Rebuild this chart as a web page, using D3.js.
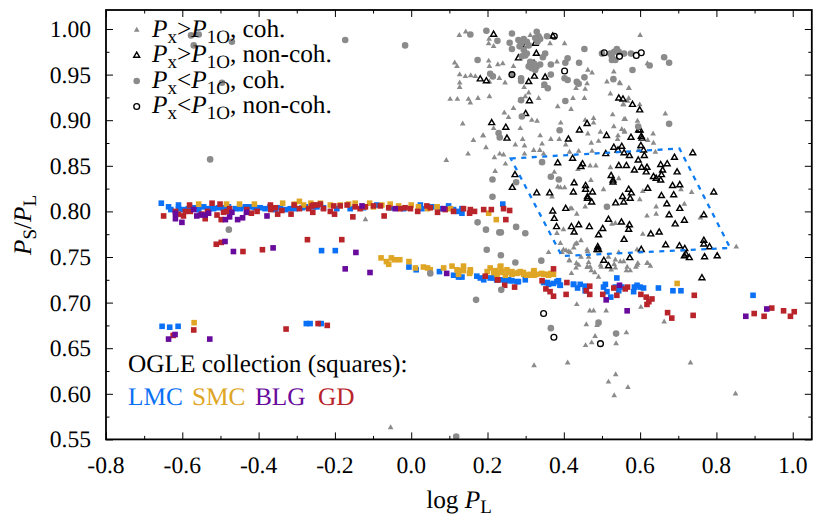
<!DOCTYPE html>
<html><head><meta charset="utf-8">
<script src="https://cdn.jsdelivr.net/npm/d3@7/dist/d3.min.js"></script>
<style>html,body{margin:0;padding:0;background:#fff}svg{display:block}text{font-family:"Liberation Serif",serif;fill:#000;text-rendering:geometricPrecision}</style>
</head><body><div id="c"></div>
<script>
const xTicks=[-0.8,-0.6,-0.4,-0.2,0,0.2,0.4,0.6,0.8,1.0];
const yTicks=[0.55,0.60,0.65,0.70,0.75,0.80,0.85,0.90,0.95,1.00];
const xMinor=[-0.7,-0.5,-0.3,-0.1,0.1,0.3,0.5,0.7,0.9];
const yMinor=[0.575,0.625,0.675,0.725,0.775,0.825,0.875,0.925,0.975];
const regionBox=[[.261,.858],[.703,.869],[.836,.760],[.395,.751]];
const grayTriangles=[[.126,.993],[.143,.997],[.204,.989],[.203,.984],[.216,.981],[.312,.993],[.402,.984],[.364,.984],[.382,.964],[.114,.963],[.120,.959],[.203,.965],[.205,.959],[.227,.961],[.240,.962],[.268,.959],[.127,.950],[.142,.948],[.156,.949],[.168,.948],[.205,.942],[.231,.946],[.246,.941],[.127,.941],[.127,.936],[.102,.923],[.121,.923],[.150,.923],[.155,.919],[.175,.924],[.205,.926],[.296,.936],[.308,.930],[.299,.926],[.286,.922],[.334,.924],[.347,.937],[.268,.913],[.244,.908],[.255,.903],[.316,.900],[.330,.899],[.135,.896],[.188,.883],[.216,.891],[.286,.891],[.338,.883],[.392,.897],[.419,.912],[.384,.915],[.424,.924],[.454,.924],[.461,.940],[.456,.934],[.432,.935],[.463,.955],[.474,.952],[.531,.953],[.513,.942],[.546,.941],[.570,.935],[.522,.929],[.528,.906],[.561,.901],[.478,.902],[.478,.897],[.456,.900],[.496,.887],[.531,.893],[.552,.890],[.570,.924],[.557,.917],[.163,.878],
[.600,.993],[.619,.962],[.548,.940],[.571,.935],[.567,.921],[.555,.917],[.599,.917],[.666,.907],[.558,.901],[.593,.899],[.559,.887],
[.273,.873],[.292,.879],[.297,.872],[.343,.874],[.366,.879],[.388,.879],[.405,.873],[.463,.885],[.472,.875],[.491,.877],[.542,.883],[.541,.879],[.559,.888],[.635,.875],[.634,.885],[.620,.878],[.196,.870],[.218,.859],[.232,.863],[.242,.862],[.247,.852],[.321,.867],[.337,.867],[.347,.863],[.297,.863],[.415,.865],[.439,.866],[.474,.866],[.469,.850],[.484,.850],[.437,.846],[.522,.848],[.596,.867],[.640,.865],[.220,.844],[.375,.843],[.471,.834],[.504,.824],[.544,.836],[.735,.821],[.707,.824],[.607,.822],[.599,.813],[.391,.826],[.384,.827],[.402,.826],[.369,.816],[.456,.805],[.434,.797],[.421,.803],[.417,.803],[.642,.805],[.618,.795],[.642,.797],[.716,.808],[.758,.793],[.535,.787],[.526,.786],[.607,.775],[.399,.780],[.445,.768],[.382,.776],[.391,.765],[.430,.764],[.434,.765],[.426,.760],[.399,.758],[.406,.757],[.413,.756],[.395,.755],[.417,.755],[.360,.755],[.461,.758],[.462,.756],[.544,.755],[.592,.758],[.852,.761],[.465,.750],[.465,.744],[.433,.743],[.414,.746],[.445,.750],[.496,.741],[.548,.745],[.592,.741],[.618,.743],[.627,.740],[.566,.739],[.535,.747],[.517,.750],[.469,.739],[.461,.739],
[.415,.746],[.439,.741],[.432,.738],[.462,.739],[.420,.732],[.472,.735],[.481,.733],[.491,.728],[.498,.739],[.524,.736],[.535,.738],[.532,.742],[.557,.745],[.594,.743],[.589,.739],[.564,.735],[.574,.735],[.620,.743],
[.434,.698],[.468,.691],[.478,.691],[.511,.691],[.602,.695],[.663,.679],[.459,.676],[.487,.675],[.564,.667],[.482,.663],[.473,.656],[.457,.653],[.537,.655],[.410,.634],[.322,.631],[.536,.621],[.517,.613],[.568,.607],[.532,.598],[.732,.634],[.850,.600],[-.120,.791],[-.054,.563],[.092,.856],[.149,.863],[.189,.883]];
const blackTriangles=[[.251,.880],[.412,.879],[.441,.889],[.512,.883],[.576,.881],[.603,.882],[.596,.889],[.605,.880],[.531,.870],[.552,.871],[.602,.872],[.609,.867],[.542,.867],[.558,.864],[.572,.861],[.611,.861],[.510,.863],[.423,.858],[.384,.853],[.449,.852],[.445,.849],[.595,.856],[.690,.859],[.738,.864],[.671,.852],[.654,.851],[.544,.850],[.564,.850],[.585,.845],[.604,.848],[.618,.848],[.616,.843],[.659,.845],[.656,.840],[.697,.843],[.524,.839],[.529,.834],[.529,.832],[.635,.838],[.642,.836],[.654,.834],[.272,.840],[.265,.826],[.329,.820],[.363,.820],[.427,.831],[.457,.828],[.457,.824],[.475,.821],[.425,.821],[.685,.828],[.704,.829],[.620,.825],[.570,.824],[.577,.820],[.554,.816],[.574,.814],[.557,.810],[.536,.809],[.462,.816],[.462,.814],[.473,.810],[.656,.817],[.688,.818],[.793,.821],[.670,.808],[.704,.803],[.405,.803],[.371,.800],[.375,.792],[.676,.796],[.767,.796],[.716,.790],[.517,.791],[.551,.788],[.572,.785],[.570,.780],[.692,.786],[.381,.783],[.420,.783],[.439,.785],[.467,.783],[.502,.781],[.427,.777],[.491,.774],[.628,.775],[.650,.777],[.558,.769],[.767,.768],[.767,.764],[.782,.761],[.667,.763],[.703,.762],[.489,.761],[.491,.758],[.487,.758],[.603,.758],[.717,.759],[.720,.753],[.716,.751],[.729,.749],[.769,.750],[.802,.751],[.573,.749],[.505,.746],[.517,.740],[.762,.727],
[.216,.994],[.371,.992],[.328,.973],[.281,.968],[.323,.948],[.351,.947],[.181,.945],[.197,.943],[.308,.942],[.310,.921],[.300,.907],[.211,.897],[.248,.892],[.461,.896],[.544,.924],[.555,.923],[.580,.917],[.599,.911],[.600,.889],[.300,.982],[.325,.984],[.322,.962]];
const grayCircles=[[.155,.994],[.197,.998],[.226,.987],[.264,.995],[.258,.985],[.264,.978],[.281,.988],[.288,.984],[.284,.981],[.295,.989],[.303,.986],[.308,.982],[.295,.977],[.303,.973],[.299,.971],[.290,.970],[.329,.997],[.334,.992],[.338,.989],[.331,.986],[.325,.990],[.356,.992],[.351,.973],[.345,.969],[.312,.964],[.308,.959],[.316,.957],[.325,.955],[.312,.961],[.329,.959],[.338,.961],[.322,.962],[.366,.961],[.404,.963],[.410,.968],[.440,.963],[.454,.978],[.174,.966],[.207,.951],[.214,.948],[.264,.950],[.288,.946],[.288,.943],[.366,.950],[.349,.939],[.358,.935],[.402,.946],[.410,.944],[.434,.942],[.439,.940],[.454,.947],[.530,.945],[.290,.904],[.288,.922],[.404,.921],[.389,.889],[.229,.886],[.232,.881],[.500,.973],[.526,.970],[.532,.975],[.539,.978],[.544,.975],[.526,.966],[.535,.966],[.522,.973],[.558,.973],[.576,.973],[.663,.969],[.676,.963],[.625,.960],[.580,.955],[.676,.896],[.595,.893],
[-.577,.993],[-.557,.994],[-.570,.982],[-.470,.986],[-.173,.988],[-.527,.857],[-.496,.941],[-.016,.982],[.343,.854],[.213,.835],[.275,.832],[.366,.838],[.387,.835],[.213,.816],[.513,.805],[.196,.780],[.231,.777],[.235,.777],[.275,.783],[.299,.776],[.198,.758],[.235,.752],[.273,.744],[.341,.746],[.174,.788],[.050,.732],[.170,.703],[.236,.714],[.366,.672],[.537,.666],[.491,.678],[.118,.553],[-.478,.780]];
const openCircles=[[.375,.992],[.506,.974],[.546,.970],[.402,.954],[.264,.950],[.590,.971],[.603,.974],[.347,.688],[.374,.662],[.496,.655]];
const lmcSquares=[[-.655,.809],[-.636,.805],[-.630,.802],[-.610,.807],[-.610,.803],[-.597,.802],[-.584,.803],[-.570,.804],[-.557,.802],[-.544,.805],[-.531,.803],[-.518,.803],[-.505,.804],[-.492,.804],[-.479,.805],[-.461,.803],[-.448,.803],[-.435,.805],[-.422,.805],[-.409,.804],[-.396,.804],[-.383,.803],[-.370,.805],[-.356,.802],[-.343,.804],[-.330,.802],[-.317,.803],[-.304,.803],[-.286,.804],[-.273,.805],[-.260,.807],[-.247,.805],[-.256,.805],[-.230,.804],[-.195,.803],[-.160,.803],[-.125,.804],[-.090,.807],[-.055,.804],[-.020,.803],[.024,.807],[.028,.803],[.054,.805],[.076,.803],[.098,.806],[.111,.802],[.124,.800],[.133,.798],[.133,.803],[.240,.808],
[-.235,.757],[-.199,.757],[-.006,.739],[.013,.736],[.074,.734],[.111,.730],[.124,.728],[.133,.728],[.172,.729],[.190,.725],[.207,.727],[.224,.725],[.255,.725],[.181,.727],[.238,.725],[.260,.724],[.277,.723],[.299,.725],[.347,.722],[.360,.720],[.382,.723],[.390,.719],[.425,.720],[.443,.720],[.456,.718],[.357,.722],[.373,.721],[.386,.724],[.391,.719],[.426,.720],[.436,.716],[.456,.713],[.504,.717],[.509,.720],[.513,.712],[.523,.706],[.539,.727],[.535,.717],[.544,.713],[.552,.717],[.583,.712],[.585,.717],[.592,.719],[.600,.717],[.609,.716],[.648,.716],[.686,.713],[.707,.713],[.896,.708],[.216,.727],[.246,.724],[.264,.724],[.281,.723],
[-.653,.674],[-.633,.673],[-.611,.674],[-.275,.677],[-.265,.677],[-.236,.677]];
const smcSquares=[[-.557,.808],[-.484,.808],[-.450,.808],[-.411,.808],[-.337,.809],[-.306,.808],[-.293,.811],[-.282,.807],[-.263,.809],[-.260,.807],[-.212,.807],[-.164,.808],[-.147,.809],[-.109,.809],[-.099,.805],[-.077,.807],[-.055,.808],[-.033,.806],[-.000,.807],[.019,.805],[.043,.803],[.068,.805],[.103,.803],[.203,.798],[.223,.791],[-.238,.809],[-.186,.807],[-.125,.805],
[-.079,.749],[-.065,.745],[-.052,.749],[-.059,.742],[-.044,.747],[-.030,.747],[-.006,.745],[.011,.738],[.032,.739],[.043,.738],[.050,.736],[.085,.738],[.107,.740],[.120,.736],[.124,.731],[.137,.740],[.137,.735],[.155,.736],[.153,.732],[.199,.734],[.207,.738],[.220,.735],[.235,.740],[.238,.734],[.251,.736],[.247,.730],[.124,.735],[.155,.734],[.216,.733],[.255,.733],[.277,.732],[.294,.733],[.312,.731],[.329,.731],[.342,.732],[.356,.731],[.366,.732],[.286,.734],[.321,.734],[.225,.730],[.264,.731],[.303,.730],[.233,.739],[.233,.733],[.264,.734],[.281,.733],[.322,.735],[.322,.730],[.347,.731],[.373,.731],[.308,.730],[.295,.731],[.360,.730],[.697,.721],
[-.569,.678]];
const gdSquares=[[-.649,.795],[-.618,.800],[-.610,.797],[-.597,.795],[-.581,.807],[-.592,.800],[-.579,.800],[-.549,.797],[-.540,.792],[-.534,.800],[-.522,.809],[-.501,.808],[-.509,.796],[-.498,.791],[-.492,.799],[-.483,.800],[-.476,.803],[-.431,.802],[-.419,.798],[-.404,.800],[-.369,.807],[-.368,.802],[-.356,.804],[-.350,.797],[-.339,.801],[-.315,.797],[-.307,.807],[-.293,.803],[-.260,.806],[-.258,.799],[-.269,.803],[-.247,.807],[-.511,.764],[-.498,.766],[-.441,.756],[-.390,.758],[-.272,.769],
[-.256,.807],[-.238,.808],[-.230,.803],[-.212,.800],[-.201,.797],[-.203,.806],[-.186,.806],[-.168,.807],[-.147,.805],[-.134,.803],[-.120,.805],[-.099,.806],[-.081,.806],[-.059,.804],[-.071,.795],[-.153,.794],[-.029,.803],[-.016,.804],[-.002,.803],[.017,.800],[.041,.806],[.050,.804],[.069,.799],[.089,.802],[.111,.800],[.137,.803],[.153,.798],[.155,.802],[.166,.800],[.190,.802],[.210,.802],[.242,.803],[.258,.801],[.248,.791],[-.182,.769],
[.194,.729],[.227,.725],[.245,.719],[.226,.725],[.271,.717],[.343,.724],[.353,.715],[.364,.712],[.373,.707],[.406,.709],[.408,.722],[.468,.718],[.468,.709],[.459,.713],[.373,.737],[.502,.709],[.531,.716],[.539,.708],[.561,.715],[.567,.717],[.602,.709],[.616,.706],[.631,.704],[.618,.698],[.623,.701],[.672,.689],[.683,.683],[.739,.686],[.742,.708],[.899,.688],[.925,.685],[.945,.694],[.976,.691],[1.004,.690],[.994,.685],
[-.624,.664],[-.570,.670],[-.328,.671],[-.244,.677],[-.220,.675]];
const blgSquares=[[-.618,.798],[-.618,.792],[-.601,.788],[-.570,.802],[-.562,.795],[-.553,.796],[-.540,.796],[-.531,.798],[-.487,.791],[-.476,.794],[-.470,.799],[-.455,.791],[-.442,.793],[-.432,.799],[-.378,.795],[-.488,.767],[-.466,.756],[-.362,.760],[-.129,.806],[-.042,.803],[.085,.803],[-.145,.755],[-.173,.737],[-.108,.733],[.093,.732],[.546,.719],[.511,.703],[.566,.691],[.877,.685],[.932,.693],[-.636,.660],[-.619,.665],[-.528,.660]];
const legendRows=[["P","x",">","P","1O",", coh."],["P","x",">","P","1O",", non-coh."],["P","x","<","P","1O",", coh."],["P","x","<","P","1O",", non-coh."]];
const collectionTitle="OGLE collection (squares):";
const collectionNames=["LMC","SMC","BLG","GD"];

const W=830,H=521;
const colors={LMC:"#0a70f5",SMC:"#dfa626",BLG:"#680a9c",GD:"#b9242b",gray:"#8b8b8b"};
const x=d3.scaleLinear().domain([-0.8,1.05]).range([106,811.8]);
const y=d3.scaleLinear().domain([0.55,1.0]).range([439.4,29]);
const frameTop=10, FS=25.3, SUB=19, TICK=23.6;
const svg=d3.select("#c").append("svg").attr("width",W).attr("height",H);

function squares(data,c){
  svg.append("g").selectAll("rect").data(data).join("rect")
   .attr("x",d=>x(d[0])-2.8).attr("y",d=>y(d[1])-2.8).attr("width",5.6).attr("height",5.6).attr("fill",c);
}
squares(lmcSquares,colors.LMC);squares(smcSquares,colors.SMC);squares(gdSquares,colors.GD);squares(blgSquares,colors.BLG);

const triS=d3.symbol().type(d3.symbolTriangle);
function tri(g,data,size,fill,stroke,sw){
  g.selectAll("path").data(data).join("path").attr("d",triS.size(size)())
   .attr("transform",d=>`translate(${d[0]},${d[1]})`).attr("fill",fill).attr("stroke",stroke).attr("stroke-width",sw).attr("stroke-linejoin","miter");
}
function circ(g,data,r,fill,stroke,sw){
  g.selectAll("circle").data(data).join("circle").attr("cx",d=>d[0]).attr("cy",d=>d[1]).attr("r",r)
   .attr("fill",fill).attr("stroke",stroke).attr("stroke-width",sw);
}
const P=a=>a.map(d=>[x(d[0]),y(d[1])]);
tri(svg.append("g"),P(grayTriangles),14,colors.gray,"none",0);
tri(svg.append("g"),P(blackTriangles),15,"none","#000",1.45);
circ(svg.append("g"),P(grayCircles),3.3,colors.gray,"none",0);
circ(svg.append("g"),P(openCircles),2.9,"none","#000",1.35);

svg.append("path").attr("d",d3.line().x(d=>x(d[0])).y(d=>y(d[1])).curve(d3.curveLinearClosed)(regionBox))
  .attr("fill","none").attr("stroke","#0d7cf2").attr("stroke-width",2.3).attr("stroke-dasharray","5 5.5");

// frame
svg.append("rect").attr("x",106).attr("y",frameTop).attr("width",705.8).attr("height",439.4-frameTop)
  .attr("fill","none").attr("stroke","#000").attr("stroke-width",1.8);

function ax(gen,tr,vals,len){
  const g=svg.append("g").attr("transform",tr).call(gen.tickValues(vals).tickSizeInner(len).tickSizeOuter(0).tickFormat(""));
  g.select(".domain").remove();
  g.selectAll("line").attr("stroke","#000").attr("stroke-width",1);
  g.selectAll("text").remove();
}
ax(d3.axisBottom(x),"translate(0,439.4)",xTicks,-7);
ax(d3.axisBottom(x),"translate(0,439.4)",xMinor,-3.5);
ax(d3.axisTop(x),`translate(0,${frameTop})`,xTicks,-7);
ax(d3.axisTop(x),`translate(0,${frameTop})`,xMinor,-3.5);
ax(d3.axisLeft(y),"translate(106,0)",yTicks,-7);
ax(d3.axisLeft(y),"translate(106,0)",yMinor,-3.5);
ax(d3.axisRight(y),"translate(811.8,0)",yTicks,-7);
ax(d3.axisRight(y),"translate(811.8,0)",yMinor,-3.5);

svg.append("g").selectAll("text").data(xTicks).join("text").attr("x",d=>x(d)).attr("y",473)
  .attr("text-anchor","middle").attr("font-size",TICK).text(d=>d.toFixed(1));
svg.append("g").selectAll("text").data(yTicks).join("text").attr("x",91).attr("y",d=>y(d)+8)
  .attr("text-anchor","end").attr("font-size",TICK).text(d=>d.toFixed(2));

// axis titles
const xl=svg.append("text").attr("x",459).attr("y",507.5).attr("text-anchor","middle").attr("font-size",FS);
xl.append("tspan").text("log ");
xl.append("tspan").attr("font-style","italic").text("P");
xl.append("tspan").attr("font-size",SUB).attr("dy",5).text("L");
const yl=svg.append("text").attr("transform","translate(31,225) rotate(-90)").attr("text-anchor","middle").attr("font-size",FS);
yl.append("tspan").attr("font-style","italic").text("P");
yl.append("tspan").attr("font-size",SUB).attr("dy",5).text("S");
yl.append("tspan").attr("dy",-5).text("/");
yl.append("tspan").attr("font-style","italic").text("P");
yl.append("tspan").attr("font-size",SUB).attr("dy",5).text("L");

// legend
const ly=[30,55.5,81,106.5];
const lxv=[136.7];
legendRows.forEach((r,i)=>{
  const t=svg.append("text").attr("x",152).attr("y",ly[i]+6.5).attr("font-size",FS);
  t.append("tspan").attr("font-style","italic").text(r[0]);
  t.append("tspan").attr("font-size",SUB).attr("dy",6).text(r[1]);
  t.append("tspan").attr("dy",-6).text(r[2]);
  t.append("tspan").attr("font-style","italic").text(r[3]);
  t.append("tspan").attr("font-size",SUB).attr("dy",6).text(r[4]);
  t.append("tspan").attr("dy",-6).text(r[5]);
});
tri(svg.append("g"),[[lxv[0],ly[0]]],14,colors.gray,"none",0);
tri(svg.append("g"),[[lxv[0],ly[1]]],15,"none","#000",1.45);
circ(svg.append("g"),[[lxv[0],ly[2]]],3.3,colors.gray,"none",0);
circ(svg.append("g"),[[lxv[0],ly[3]]],2.9,"none","#000",1.35);

svg.append("text").attr("x",128).attr("y",372).attr("font-size",FS).text(collectionTitle);
const nx=[128,192,255,318];
collectionNames.forEach((n,i)=>svg.append("text").attr("x",nx[i]).attr("y",405).attr("font-size",FS).style("fill",colors[n]).text(n));
</script></body></html>
